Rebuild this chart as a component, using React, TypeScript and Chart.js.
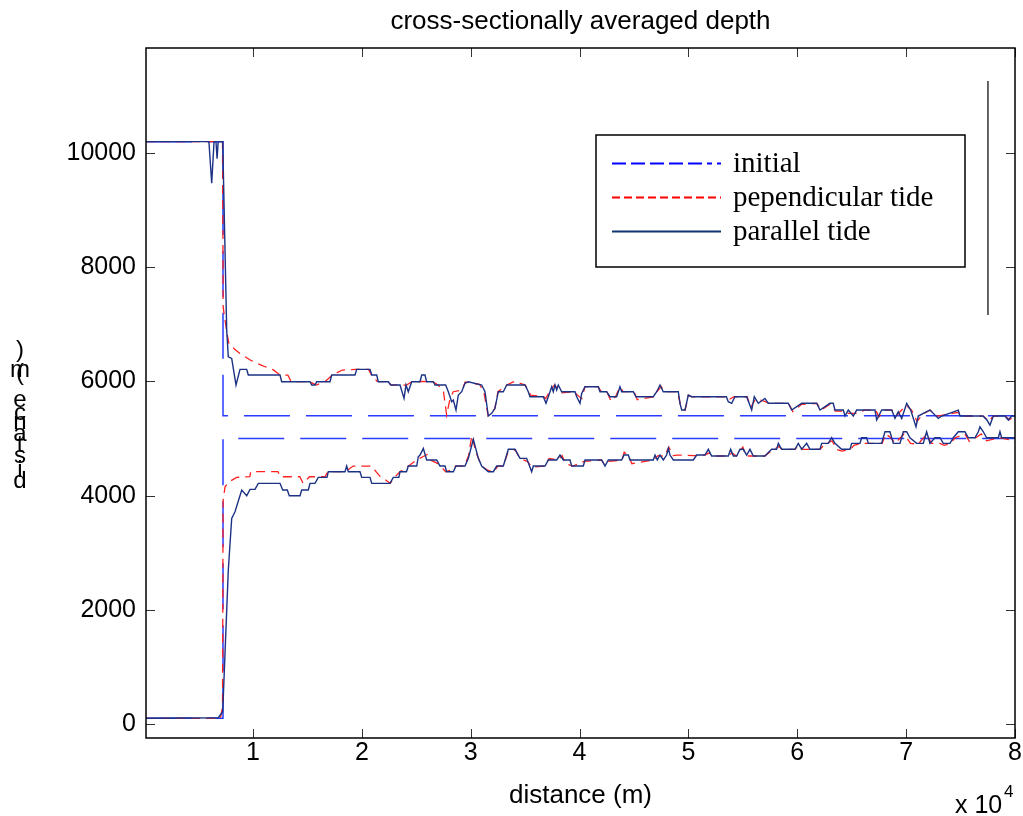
import React, { useEffect, useRef } from 'react';
import { Chart, registerables } from 'chart.js';

Chart.register(...registerables);

// ---------- data ----------
const TITLE = 'cross-sectionally averaged depth';
const X_LABEL = 'distance (m)';
const Y_LABEL = 'distance (m)'; // rendered stacked, as in the reference
const X_EXPONENT = ['x 10', '4'];
const LEGEND_LABELS = ['initial', 'pependicular tide', 'parallel tide'];
const X_TICKS = [10000, 20000, 30000, 40000, 50000, 60000, 70000, 80000];
const Y_TICKS = [0, 2000, 4000, 6000, 8000, 10000];
const X_RANGE = [170, 80000];
const Y_RANGE = [-245, 11840];

const initialUpper: [number, number][] = [[170, 10200], [7244, 10200], [7244, 5400], [80000, 5400]];
const initialLower: [number, number][] = [[170, 100], [7244, 100], [7244, 5000], [80000, 5000]];

const perpUpper: [number, number][] = [
  [170, 10200], [7200, 10200], [7260, 7300], [7600, 6850], [7800, 6650], [8400, 6550], [8800, 6490], [9700, 6380],
  [10800, 6280], [11800, 6210], [12500, 6112], [13200, 6112], [13500, 5995], [15200, 5995], [15800, 5937], [16600, 5995],
  [17300, 6112], [18200, 6200], [19500, 6212], [20600, 6212], [20900, 6112], [21400, 6000], [22400, 5995], [22700, 5937],
  [23500, 5937], [24100, 5937], [24600, 5995], [25600, 6000], [26500, 5995], [27000, 5937], [27500, 5820], [27790, 5411],
  [28100, 5700], [28400, 5820], [29200, 5850], [29500, 5990], [30800, 5950], [31200, 5820], [31600, 5400], [32200, 5520],
  [32500, 5820], [33300, 5937], [34000, 6000], [35000, 5937], [35300, 5850], [35500, 5760], [36700, 5732], [36900, 5700],
  [37300, 5850], [37700, 5937], [38300, 5800], [39500, 5820], [39800, 5760], [40200, 5700], [40500, 5908], [41700, 5908],
  [42000, 5820], [42500, 5820], [42900, 5650], [43300, 5732], [43700, 5900], [44000, 5820], [45000, 5820], [45300, 5680],
  [46800, 5732], [47100, 5820], [47500, 5908], [47800, 5820], [49000, 5820], [49300, 5560], [49700, 5499], [50000, 5760],
  [50300, 5732], [53500, 5732], [53700, 5680], [54200, 5732], [55400, 5732], [55700, 5540], [56200, 5700], [57000, 5650],
  [57400, 5617], [59200, 5617], [59600, 5470], [60400, 5600], [61800, 5617], [62200, 5499], [63000, 5600], [63500, 5480],
  [64300, 5480], [64700, 5440], [65500, 5440], [66200, 5499], [67200, 5499], [67500, 5380], [68000, 5499], [68700, 5499],
  [69100, 5400], [70000, 5580], [70500, 5499], [71000, 5300], [71500, 5420], [72200, 5499], [72900, 5394], [74800, 5460],
  [75000, 5394], [77100, 5394], [77600, 5300], [78000, 5394], [79100, 5394], [79500, 5330], [80000, 5394],
];

const perpLower: [number, number][] = [
  [170, 100], [7000, 100], [7200, 300], [7250, 3900], [7430, 4156], [7800, 4243], [8500, 4320], [9700, 4331],
  [9800, 4419], [12300, 4419], [12500, 4331], [14300, 4331], [14600, 4215], [15200, 4331], [16600, 4331], [16900, 4419],
  [18500, 4419], [19200, 4518], [20900, 4518], [21300, 4420], [21700, 4331], [22000, 4300], [22600, 4215], [23000, 4320],
  [23500, 4419], [24300, 4518], [25000, 4624], [25600, 4681], [26000, 4720], [26300, 4624], [27000, 4560], [27700, 4419],
  [28300, 4450], [28600, 4518], [29400, 4518], [29800, 4700], [30100, 5050], [30500, 4750], [31000, 4518], [31600, 4440],
  [32100, 4419], [32500, 4518], [33000, 4518], [33400, 4750], [34100, 4800], [34500, 4653], [35200, 4600], [35600, 4500],
  [36800, 4518], [37200, 4650], [38000, 4624], [38400, 4700], [38700, 4560], [39400, 4518], [40400, 4600], [42000, 4624],
  [42300, 4540], [42700, 4600], [43900, 4624], [44100, 4760], [44500, 4700], [44800, 4560], [46800, 4624], [47200, 4700],
  [47800, 4690], [48200, 4850], [48600, 4700], [49000, 4711], [50500, 4700], [51500, 4711], [51900, 4750], [52200, 4694],
  [53700, 4694], [54000, 4750], [54400, 4694], [55000, 4850], [55300, 4694], [57000, 4694], [57600, 4780], [58300, 4860],
  [58600, 4811], [59800, 4811], [60100, 4880], [60500, 4811], [62100, 4811], [62500, 4900], [63200, 4960], [63600, 4811],
  [64100, 4780], [64900, 4811], [65200, 4880], [65900, 4916], [67800, 4916], [68100, 5080], [68600, 5014], [69000, 4916],
  [69800, 5080], [70400, 4916], [71100, 4900], [71900, 5080], [72300, 4916], [73100, 4916], [73500, 4880], [74100, 4916],
  [74500, 5014], [75400, 5080], [75800, 4950], [76400, 5014], [76900, 5080], [77400, 4960], [78500, 5014], [79000, 5000],
  [79500, 4980], [80000, 5014],
];

const parallelUpper: [number, number][] = [
  [170, 10200], [5950, 10200], [6206, 9470], [6420, 10200], [6600, 10200], [6700, 9900], [6800, 10200], [7217, 10200],
  [7584, 6900], [7730, 6432], [8043, 6404], [8438, 5937], [8806, 6212], [9421, 6212], [9568, 6112], [12480, 6112],
  [12636, 5995], [15236, 5995], [15392, 5937], [15695, 5937], [15850, 5995], [17073, 5995], [17229, 6112], [19370, 6112],
  [19525, 6212], [20747, 6212], [20904, 6112], [21363, 6112], [21510, 5995], [22429, 5995], [22649, 5937], [23504, 5937],
  [23871, 5704], [24055, 5937], [24266, 5820], [24579, 5995], [25341, 5995], [25500, 6112], [25800, 6112], [25950, 5995],
  [26563, 5995], [26719, 5937], [27700, 5937], [27941, 5820], [28253, 5645], [28400, 5674], [28648, 5499], [28859, 5762],
  [29171, 5820], [29474, 5967], [29777, 5995], [31008, 5937], [31311, 5820], [31615, 5394], [31927, 5441], [32230, 5529],
  [32533, 5820], [32993, 5820], [33305, 5937], [34986, 5937], [35289, 5820], [35445, 5732], [36669, 5732], [36915, 5617],
  [37127, 5732], [37439, 5908], [37586, 5820], [37742, 5937], [37898, 5850], [38045, 5937], [38357, 5820], [39579, 5820],
  [39735, 5732], [40038, 5617], [40194, 5791], [40497, 5908], [41719, 5908], [41875, 5820], [42490, 5820], [42794, 5732],
  [43409, 5732], [43712, 5908], [43868, 5820], [44934, 5820], [45183, 5732], [46773, 5732], [47085, 5820], [47388, 5937],
  [47691, 5820], [49069, 5820], [49225, 5617], [49381, 5499], [49684, 5499], [49987, 5762], [50299, 5732], [53486, 5732],
  [53661, 5645], [53973, 5617], [54276, 5732], [55351, 5732], [55810, 5499], [56049, 5732], [56417, 5617], [57032, 5703],
  [57335, 5617], [59172, 5617], [59485, 5499], [60403, 5617], [61781, 5617], [62084, 5499], [63002, 5617], [63300, 5617],
  [63462, 5499], [64228, 5499], [64382, 5394], [64686, 5499], [65145, 5394], [65457, 5499], [67138, 5499], [67294, 5324],
  [67753, 5499], [68672, 5499], [68975, 5353], [69278, 5470], [69591, 5353], [70050, 5617], [70417, 5499], [70904, 5207],
  [71115, 5394], [71886, 5470], [72189, 5499], [72955, 5353], [73267, 5394], [74791, 5499], [74947, 5394], [77058, 5394],
  [77422, 5324], [77702, 5236], [78007, 5394], [79081, 5394], [79384, 5324], [79696, 5394], [80000, 5394],
];

const parallelLower: [number, number][] = [
  [170, 100], [6813, 110], [7217, 215], [7428, 1238], [7731, 2697], [8043, 3602], [8347, 3718], [8962, 4098],
  [9421, 3998], [9724, 4110], [10184, 4110], [10487, 4215], [12480, 4215], [12728, 4098], [13151, 4098], [13335, 3998],
  [14318, 3998], [14474, 4098], [15080, 4098], [15236, 4215], [15695, 4215], [15999, 4320], [16800, 4320], [16917, 4419],
  [18451, 4419], [18607, 4518], [18754, 4419], [19829, 4419], [19985, 4320], [20747, 4320], [20904, 4215], [22585, 4215],
  [22888, 4320], [23400, 4320], [23504, 4419], [24100, 4419], [24266, 4518], [25038, 4518], [25184, 4681], [25341, 4711],
  [25647, 4828], [25953, 4624], [26872, 4624], [27178, 4518], [27637, 4518], [27790, 4419], [28403, 4419], [28648, 4518],
  [29474, 4518], [29781, 4653], [30240, 4986], [30700, 4653], [31006, 4518], [31618, 4419], [32078, 4419], [32384, 4518],
  [32996, 4518], [33456, 4811], [34068, 4811], [34527, 4653], [35140, 4653], [35599, 4419], [35752, 4518], [36824, 4518],
  [37130, 4624], [37895, 4624], [38202, 4711], [38508, 4624], [39120, 4624], [39273, 4518], [40345, 4518], [40498, 4624],
  [42029, 4624], [42335, 4518], [42641, 4624], [43866, 4624], [44080, 4711], [44478, 4711], [44631, 4624], [46775, 4624],
  [46928, 4711], [47142, 4624], [47387, 4711], [47693, 4624], [47999, 4711], [48152, 4828], [48305, 4711], [48611, 4624],
  [50449, 4624], [50755, 4711], [51520, 4711], [51827, 4811], [52133, 4694], [53664, 4694], [53878, 4811], [54123, 4694],
  [54429, 4694], [54735, 4811], [55042, 4811], [55348, 4711], [55654, 4811], [55960, 4694], [57032, 4694], [57644, 4811],
  [58104, 4811], [58257, 4916], [58563, 4811], [59788, 4811], [60094, 4916], [60400, 4811], [60859, 4916], [61166, 4811],
  [62084, 4811], [62237, 4916], [62850, 4916], [63156, 5014], [63462, 4916], [64075, 4811], [64840, 4811], [64993, 4916],
  [65759, 4916], [65912, 5014], [66371, 5014], [66524, 4916], [67749, 4916], [68055, 5119], [68514, 5119], [68821, 4916],
  [69433, 4916], [69739, 5119], [70045, 5119], [70352, 5014], [70964, 4916], [71576, 4916], [71883, 5119], [72189, 4916],
  [72648, 5014], [73108, 5014], [73414, 4916], [74026, 4916], [74332, 5014], [74792, 5119], [75404, 5119], [75710, 5014],
  [76323, 5014], [76629, 5119], [76782, 5207], [77088, 5119], [77394, 5014], [78466, 5014], [78619, 5119], [78772, 5014],
  [80000, 5014],
];

// stray vertical line visible in the reference figure
const strayLine: [number, number][] = [[77517, 11261], [77517, 7163]];

// ---------- styles ----------
const BLUE = '#2a3cff';
const RED = '#ff2020';
const NAVY = '#1b3285';
const SANS = '"Liberation Sans", Arial, Helvetica, sans-serif';
const SERIF = '"Liberation Serif", "Times New Roman", serif';

const pts = (arr: [number, number][]) => arr.map(([x, y]) => ({ x, y }));

const decorPlugin = {
  id: 'decor',
  beforeDraw(chart: any) {
    const { ctx, width, height } = chart;
    ctx.save();
    ctx.fillStyle = '#ffffff';
    ctx.fillRect(0, 0, width, height);
    ctx.restore();
  },
  afterDraw(chart: any) {
    const { ctx, chartArea: a, scales } = chart;
    ctx.save();
    // inward tick marks on all four sides
    ctx.strokeStyle = '#333';
    ctx.lineWidth = 1;
    ctx.beginPath();
    for (const t of scales.x.ticks) {
      const p = Math.round(scales.x.getPixelForValue(t.value)) + 0.5;
      ctx.moveTo(p, a.bottom); ctx.lineTo(p, a.bottom - 9);
      ctx.moveTo(p, a.top); ctx.lineTo(p, a.top + 9);
    }
    for (const t of scales.y.ticks) {
      const p = Math.round(scales.y.getPixelForValue(t.value)) + 0.5;
      ctx.moveTo(a.left, p); ctx.lineTo(a.left + 9, p);
      ctx.moveTo(a.right, p); ctx.lineTo(a.right - 9, p);
    }
    ctx.stroke();
    // axes box
    ctx.strokeStyle = '#000';
    ctx.lineWidth = 1.5;
    ctx.strokeRect(a.left, a.top, a.right - a.left, a.bottom - a.top);

    ctx.fillStyle = '#000';
    // title
    ctx.font = `26px ${SANS}`;
    ctx.textAlign = 'center';
    ctx.textBaseline = 'middle';
    ctx.fillText(TITLE, (a.left + a.right) / 2, 22);

    // stacked y label (characters drawn upright, bottom to top)
    ctx.font = `24px ${SANS}`;
    const yPos = [481, 470, 456, 445, 434, 422, 413, 400, 386, 373, 370, 350];
    const chars = Y_LABEL.split('');
    chars.forEach((c, i) => {
      if (c !== ' ') ctx.fillText(c, 20, yPos[i]);
    });

    // x exponent
    ctx.textAlign = 'left';
    ctx.textBaseline = 'alphabetic';
    ctx.font = `25px ${SANS}`;
    ctx.fillText(X_EXPONENT[0], 955, 813);
    ctx.font = `17px ${SANS}`;
    ctx.fillText(X_EXPONENT[1], 1004, 797);

    // legend
    const lx = 596, ly = 135, lw = 369, lh = 132;
    ctx.fillStyle = '#fff';
    ctx.fillRect(lx, ly, lw, lh);
    ctx.strokeStyle = '#000';
    ctx.lineWidth = 1.5;
    ctx.strokeRect(lx, ly, lw, lh);
    const rows = [163, 197, 231];
    const styles = [
      { color: '#0000ff', dash: [14, 5] },
      { color: '#ff0000', dash: [8, 4] },
      { color: '#0d3570', dash: [] as number[] },
    ];
    rows.forEach((ry, i) => {
      ctx.strokeStyle = styles[i].color;
      ctx.lineWidth = 2;
      ctx.setLineDash(styles[i].dash);
      ctx.beginPath();
      ctx.moveTo(612, ry + 0.5);
      ctx.lineTo(i === 0 ? 712 : 721, ry + 0.5);
      ctx.stroke();
      if (i === 0) {
        ctx.setLineDash([]);
        ctx.beginPath();
        ctx.moveTo(717, ry + 0.5);
        ctx.lineTo(721, ry + 0.5);
        ctx.stroke();
      }
    });
    ctx.setLineDash([]);
    ctx.fillStyle = '#000';
    ctx.font = `29px ${SERIF}`;
    ctx.textAlign = 'left';
    ctx.textBaseline = 'middle';
    LEGEND_LABELS.forEach((t, i) => ctx.fillText(t, 733, rows[i] + 1));
    ctx.restore();
  },
};

export default function App() {
  const ref = useRef<HTMLCanvasElement | null>(null);

  useEffect(() => {
    if (!ref.current) return;
    const line = (data: [number, number][], color: string, dash: number[], width: number, order: number) => ({
      data: pts(data),
      borderColor: color,
      backgroundColor: color,
      borderWidth: width,
      borderDash: dash,
      pointRadius: 0,
      tension: 0,
      fill: false,
      order,
    });
    const chart = new Chart(ref.current, {
      type: 'line',
      data: {
        datasets: [
          { label: LEGEND_LABELS[2], ...line(parallelUpper, NAVY, [], 1.4, 1) },
          { label: LEGEND_LABELS[2], ...line(parallelLower, NAVY, [], 1.4, 1) },
          { label: LEGEND_LABELS[1], ...line(perpUpper, RED, [9, 6], 1.3, 2) },
          { label: LEGEND_LABELS[1], ...line(perpLower, RED, [9, 6], 1.3, 2) },
          { label: LEGEND_LABELS[0], ...line(initialUpper, BLUE, [46, 16], 1.5, 3) },
          { label: LEGEND_LABELS[0], ...line(initialLower, BLUE, [46, 16], 1.5, 3) },
          { label: 'stray', ...line(strayLine, '#000', [], 1.2, 0) },
        ],
      },
      options: {
        responsive: false,
        animation: false,
        devicePixelRatio: 1,
        parsing: true,
        layout: { padding: { top: 48, right: 8, left: 0, bottom: 0 } },
        plugins: { legend: { display: false }, tooltip: { enabled: false }, title: { display: false } },
        scales: {
          x: {
            type: 'linear',
            min: X_RANGE[0],
            max: X_RANGE[1],
            grid: { display: false, drawTicks: false },
            border: { display: false },
            afterBuildTicks: (s: any) => { s.ticks = X_TICKS.map((v) => ({ value: v })); },
            afterFit: (s: any) => { s.height = 78; },
            ticks: {
              autoSkip: false,
              maxRotation: 0,
              padding: 0,
              color: '#000',
              font: { family: SANS, size: 25 },
              callback: (v: any) => String(Number(v) / 10000),
            },
            title: {
              display: true,
              text: X_LABEL,
              color: '#000',
              font: { family: SANS, size: 26 },
              padding: { top: 0, bottom: 5 },
            },
          },
          y: {
            type: 'linear',
            min: Y_RANGE[0],
            max: Y_RANGE[1],
            grid: { display: false, drawTicks: false },
            border: { display: false },
            afterBuildTicks: (s: any) => { s.ticks = Y_TICKS.map((v) => ({ value: v })); },
            afterFit: (s: any) => { s.width = 146; },
            ticks: {
              autoSkip: false,
              padding: 10,
              color: '#000',
              font: { family: SANS, size: 25 },
              callback: (v: any) => String(v),
            },
          },
        },
      },
      plugins: [decorPlugin],
    });
    return () => chart.destroy();
  }, []);

  return (
    <canvas
      ref={ref}
      width={1023}
      height={816}
      style={{ position: 'fixed', left: 0, top: 0, width: 1023, height: 816, display: 'block' }}
    />
  );
}
